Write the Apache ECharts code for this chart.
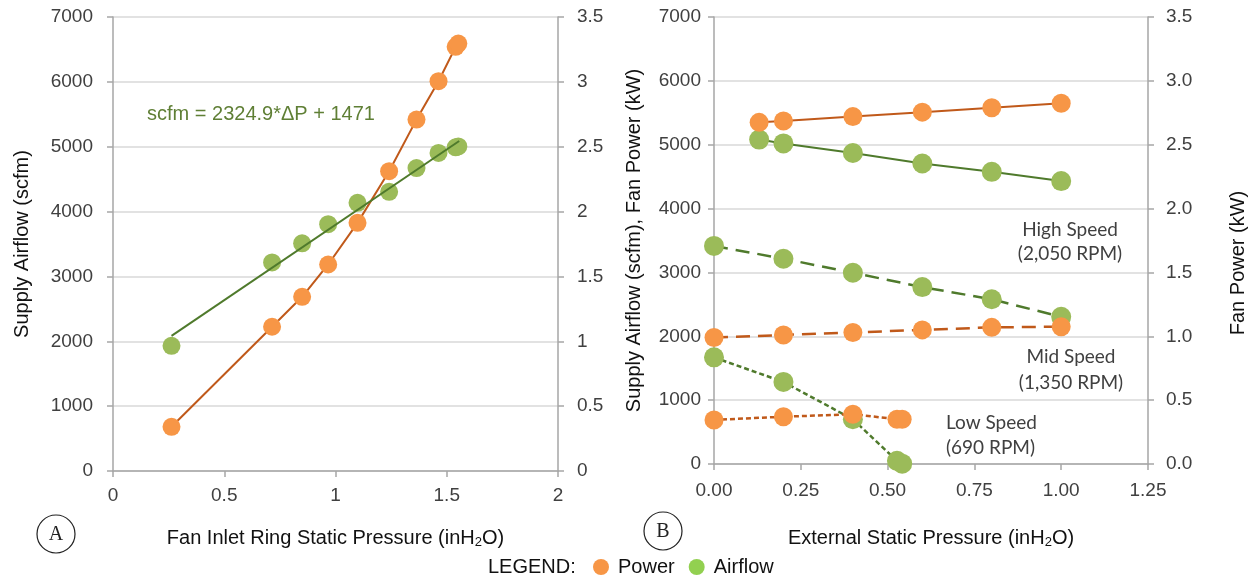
<!DOCTYPE html>
<html>
<head>
<meta charset="utf-8">
<script src="https://cdn.jsdelivr.net/npm/echarts@6/dist/echarts.min.js"></script>
<style>
html,body{margin:0;padding:0;background:#fff;}
#chart{width:1256px;height:580px;}
</style>
</head>
<body>
<div id="chart"></div>
<script>
// ---------- DATA ----------
// Panel A: fan inlet ring static pressure (inH2O)
const aPressure = [0.263, 0.715, 0.85, 0.967, 1.099, 1.241, 1.364, 1.463, 1.540, 1.552];
const aAirflow  = [1930, 3215, 3510, 3805, 4135, 4305, 4670, 4905, 4990, 5005];   // scfm
const aPower    = [0.341, 1.112, 1.343, 1.592, 1.913, 2.311, 2.709, 3.005, 3.270, 3.295]; // kW
// Trendline stated on chart: scfm = 2324.9*dP + 1471
const fitSlope = 2324.9;
const fitIntercept = 1471;
const fitRange = [0.263, 1.556];

// Panel B: external static pressure (inH2O)
const highPressure = [0.13, 0.2, 0.4, 0.6, 0.8, 1.0];
const highAirflow  = [5080, 5020, 4870, 4705, 4575, 4430];
const highPower    = [2.675, 2.685, 2.72, 2.755, 2.79, 2.825];
const midPressure  = [0, 0.2, 0.4, 0.6, 0.8, 1.0];
const midAirflow   = [3415, 3215, 2995, 2770, 2580, 2305];
const midPower     = [0.99, 1.01, 1.03, 1.05, 1.07, 1.075];
const lowPressure  = [0, 0.2, 0.4, 0.527, 0.542];
const lowAirflow   = [1670, 1285, 700, 50, 5];
const lowPower     = [0.345, 0.37, 0.39, 0.35, 0.35];

const aXTicks = { min: 0, max: 2, interval: 0.5 };
const bXTicks = { min: 0, max: 1.25, interval: 0.25 };
const flowTicks = { min: 0, max: 7000, interval: 1000 };
const powerTicks = { min: 0, max: 3.5, interval: 0.5 };

// ---------- STYLE ----------
const ORANGE = '#F79646', ORANGE_LINE = '#C0591A';
const GREEN = '#9BBB59', GREEN_LINE = '#4F7A2C';
const AXIS = '#A6A6A6', GRID = '#D9D9D9', TICK_TXT = '#404040';
const SANS = '"Liberation Sans", Arial, sans-serif';
const CAL = 'Lato, "Open Sans", sans-serif';

const zip = (xs, ys) => xs.map((x, i) => [x, ys[i]]);

function xAx(grid, t, fmt, name, margin, gap) {
  return {
    type: 'value', gridIndex: grid, min: t.min, max: t.max, interval: t.interval,
    axisLine: { show: true, onZero: false, lineStyle: { color: AXIS, width: 1.5 } },
    axisTick: { show: true, length: 6, lineStyle: { color: AXIS, width: 1.5 } },
    splitLine: { show: false },
    axisLabel: { color: TICK_TXT, fontSize: 19, fontFamily: SANS, margin: margin, formatter: fmt },
    name: name, nameLocation: 'middle', nameGap: gap,
    nameTextStyle: { color: '#111', fontSize: 20, fontFamily: SANS,
      rich: { sub: { fontSize: 13, fontFamily: SANS, color: '#111', padding: [9, 0, 0, 0] } } }
  };
}
function yAx(grid, t, pos, fmt, split, margin, name, gap) {
  return {
    type: 'value', gridIndex: grid, position: pos, min: t.min, max: t.max, interval: t.interval,
    axisLine: { show: true, lineStyle: { color: AXIS, width: 1.5 } },
    axisTick: { show: true, length: 6, lineStyle: { color: AXIS, width: 1.5 } },
    splitLine: { show: split, lineStyle: { color: GRID, width: 1.5 } },
    axisLabel: { color: TICK_TXT, fontSize: 19, fontFamily: SANS, margin: margin, formatter: fmt },
    name: name || '', nameLocation: 'middle', nameGap: gap || 0,
    nameTextStyle: { color: '#111', fontSize: 20, fontFamily: SANS }
  };
}

function lineSeries(name, xi, yi, data, lineColor, markColor, dash, width, size) {
  return {
    name: name, type: 'line', xAxisIndex: xi, yAxisIndex: yi, data: data,
    symbol: 'circle', symbolSize: size, showSymbol: true,
    lineStyle: { color: lineColor, width: width, type: dash },
    itemStyle: { color: markColor, borderWidth: 0, opacity: 1 },
    emphasis: { disabled: true }, z: 3
  };
}

const fitData = fitRange.map(x => [x, fitSlope * x + fitIntercept]);

const option = {
  animation: false,
  backgroundColor: '#fff',
  grid: [
    { left: 113, top: 17, width: 445, height: 454 },
    { left: 714, top: 17, width: 434, height: 447 }
  ],
  xAxis: [
    xAx(0, aXTicks, v => String(v), 'Fan Inlet Ring Static Pressure (inH{sub|2}O)', 15, 56),
    xAx(1, bXTicks, v => v.toFixed(2), 'External Static Pressure (inH{sub|2}O)', 17, 63)
  ],
  yAxis: [
    yAx(0, flowTicks, 'left', v => String(v), true, 20, 'Supply Airflow (scfm)', 81),
    yAx(0, powerTicks, 'right', v => String(v), false, 19),
    yAx(1, flowTicks, 'left', v => String(v), true, 13, 'Supply Airflow (scfm), Fan Power (kW)', 70),
    yAx(1, powerTicks, 'right', v => v.toFixed(1), false, 18)
  ],
  legend: {
    left: 588, top: 552, icon: 'circle', itemWidth: 16, itemHeight: 16, itemGap: 14,
    textStyle: { color: '#111', fontSize: 20, fontFamily: SANS, padding: [0, 0, 0, 4] },
    data: [
      { name: 'Power', itemStyle: { color: ORANGE } },
      { name: 'Airflow', itemStyle: { color: '#92D050' } }
    ]
  },
  series: [
    // Panel A
    lineSeries('Power', 0, 1, zip(aPressure, aPower), ORANGE_LINE, ORANGE, 'solid', 2, 18),
    { name: 'Airflow', type: 'scatter', xAxisIndex: 0, yAxisIndex: 0, data: zip(aPressure, aAirflow),
      symbol: 'circle', symbolSize: 18, itemStyle: { color: GREEN, opacity: 1 }, emphasis: { disabled: true }, z: 3 },
    { name: 'Airflow trend', type: 'line', xAxisIndex: 0, yAxisIndex: 0, data: fitData,
      symbol: 'none', lineStyle: { color: GREEN_LINE, width: 2 }, z: 5, emphasis: { disabled: true } },
    // Panel B
    lineSeries('Airflow', 1, 2, zip(highPressure, highAirflow), GREEN_LINE, GREEN, 'solid', 2, 20),
    lineSeries('Power', 1, 3, zip(highPressure, highPower), ORANGE_LINE, ORANGE, 'solid', 2, 19),
    lineSeries('Airflow', 1, 2, zip(midPressure, midAirflow), GREEN_LINE, GREEN, [14, 8], 2.5, 20),
    lineSeries('Power', 1, 3, zip(midPressure, midPower), ORANGE_LINE, ORANGE, [14, 8], 2.5, 19),
    lineSeries('Airflow', 1, 2, zip(lowPressure, lowAirflow), GREEN_LINE, GREEN, [5, 3], 2.5, 20),
    lineSeries('Power', 1, 3, zip(lowPressure, lowPower), ORANGE_LINE, ORANGE, [5, 3], 2.5, 19)
  ],
  graphic: [
    { type: 'text', left: 147, top: 104, style: { text: 'scfm = 2324.9*\u0394P + 1471', fill: '#5F7F35', font: '20px ' + SANS } },
    { type: 'text', x: 1070, y: 230, style: { text: 'High Speed', fill: '#404040', font: '19px ' + CAL, align: 'center', verticalAlign: 'middle' } },
    { type: 'text', x: 1070, y: 254, style: { text: '(2,050 RPM)', fill: '#404040', font: '19px ' + CAL, align: 'center', verticalAlign: 'middle' } },
    { type: 'text', x: 1071, y: 357, style: { text: 'Mid Speed', fill: '#404040', font: '19px ' + CAL, align: 'center', verticalAlign: 'middle' } },
    { type: 'text', x: 1071, y: 383, style: { text: '(1,350 RPM)', fill: '#404040', font: '19px ' + CAL, align: 'center', verticalAlign: 'middle' } },
    { type: 'text', x: 946, y: 423, style: { text: 'Low Speed', fill: '#404040', font: '19px ' + CAL, align: 'left', verticalAlign: 'middle' } },
    { type: 'text', x: 946, y: 448, style: { text: '(690 RPM)', fill: '#404040', font: '19px ' + CAL, align: 'left', verticalAlign: 'middle' } },
    { type: 'text', x: 1238, y: 263, rotation: Math.PI / 2,
      style: { text: 'Fan Power (kW)', fill: '#111', font: '20px ' + SANS, align: 'center', verticalAlign: 'middle' } },
    { type: 'circle', shape: { cx: 56, cy: 534, r: 19 }, style: { fill: 'none', stroke: '#222', lineWidth: 1.2 } },
    { type: 'text', x: 56, y: 535, style: { text: 'A', fill: '#222', font: '20px "Liberation Serif", "DejaVu Serif", serif', align: 'center', verticalAlign: 'middle' } },
    { type: 'circle', shape: { cx: 663, cy: 531, r: 19 }, style: { fill: 'none', stroke: '#222', lineWidth: 1.2 } },
    { type: 'text', x: 663, y: 532, style: { text: 'B', fill: '#222', font: '20px "Liberation Serif", "DejaVu Serif", serif', align: 'center', verticalAlign: 'middle' } },
    { type: 'text', x: 488, y: 567, style: { text: 'LEGEND:', fill: '#111', font: '20px ' + SANS, align: 'left', verticalAlign: 'middle' } }
  ]
};

const chart = echarts.init(document.getElementById('chart'), null, { renderer: 'canvas' });
chart.setOption(option);
</script>
</body>
</html>
